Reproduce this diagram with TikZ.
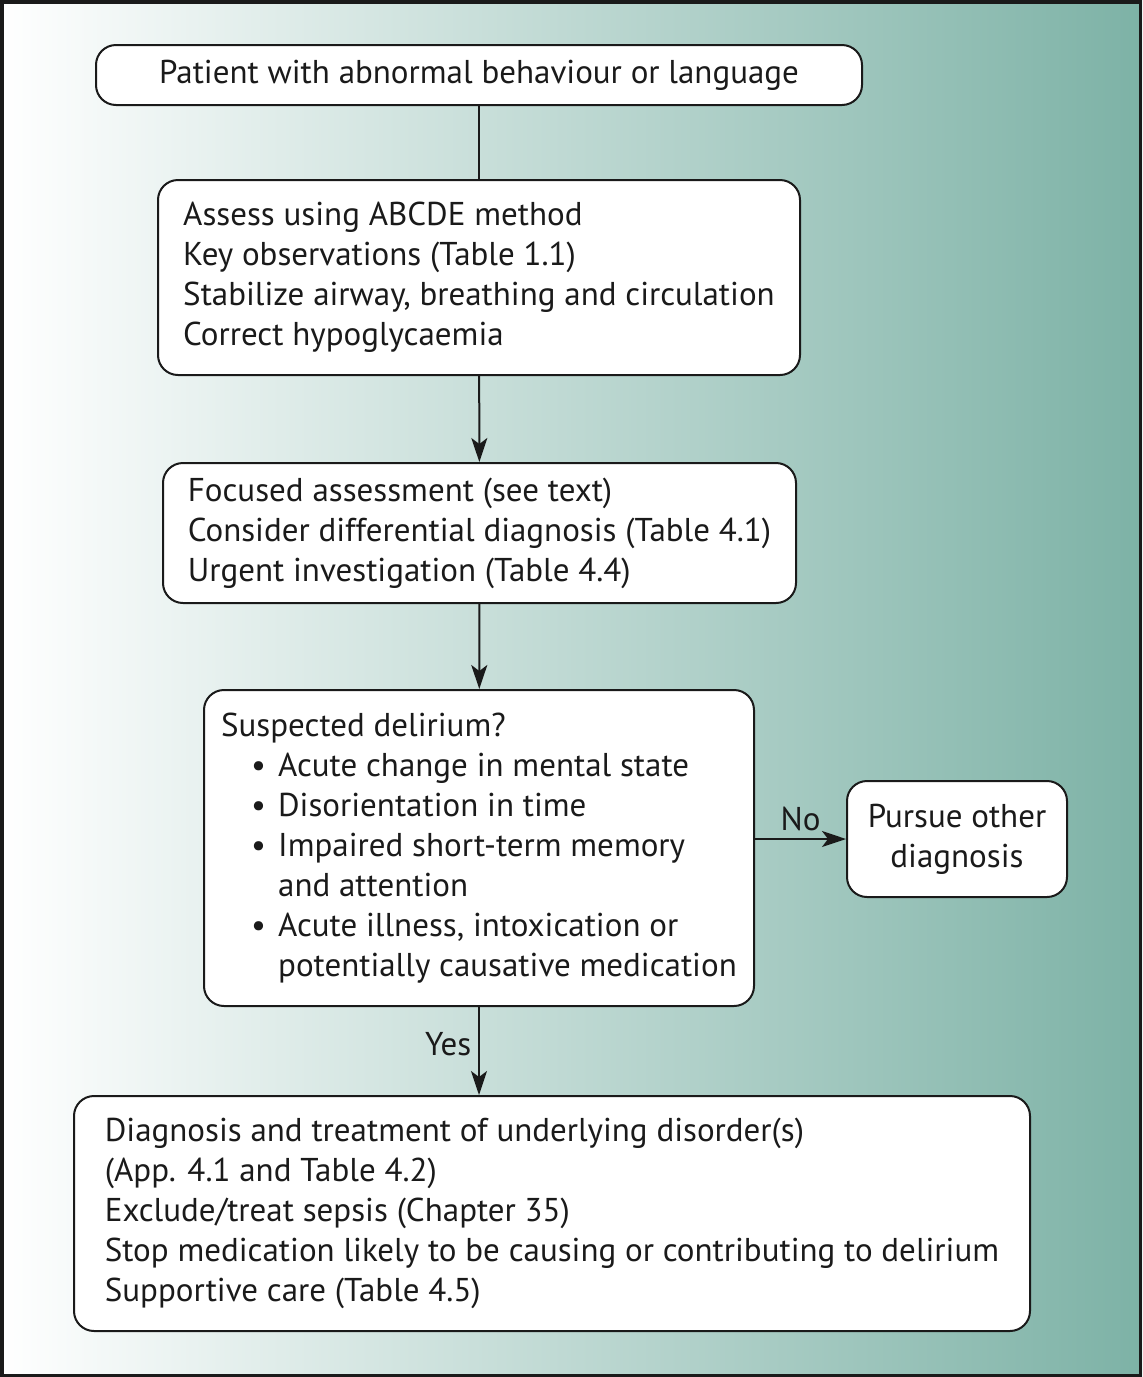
\documentclass[tikz,border=0pt]{standalone}
\usepackage{fontspec}
\setmainfont{PT Sans}
\usetikzlibrary{arrows.meta}
\definecolor{clrTeal}{HTML}{7DB2A6}
\definecolor{clrInk} {HTML}{1A1A1A}

\newcommand{\bitem}{\makebox[28.5pt][l]{\hspace*{15pt}\textbullet}}
\newcommand{\bcont}{\hspace*{28.5pt}}

\begin{document}
\begin{tikzpicture}[x=0.5pt, y=-0.5pt,
  box/.style={draw=clrInk, fill=white, rounded corners=10pt,
              line width=1pt, text=clrInk, align=left, inner sep=0pt,
              font=\fontsize{16.5}{20}\selectfont},
  arr/.style={-{Stealth[length=12pt, width=8pt, inset=3pt]},
              line width=1pt, draw=clrInk},
  lbl/.style={font=\fontsize{16.5}{20}\selectfont, text=clrInk},
]
\useasboundingbox (0,0) rectangle (1142,1377);
\shade[left color=white, right color=clrTeal] (0,0) rectangle (1142,1377);
\draw[line width=1.75pt, draw=clrInk] (1.75,1.75) rectangle (1140.25,1375.25);

\node[box, align=center, minimum width=383pt, minimum height=30pt]
  (start) at (479, 75) {Patient with abnormal behaviour or language};
\node[box, minimum width=321pt, minimum height=97.5pt]
  (abcde) at (479, 277.5)
  {Assess using ABCDE method\\
   Key observations (Table 1.1)\\
   Stabilize airway, breathing and circulation\\
   Correct hypoglycaemia};
\node[box, minimum width=316.5pt, minimum height=70pt]
  (focus) at (479.5, 533)
  {Focused assessment (see text)\\
   Consider differential diagnosis (Table 4.1)\\
   Urgent investigation (Table 4.4)};
\node[box, minimum width=275pt, minimum height=158pt]
  (delir) at (479, 848)
  {Suspected delirium?\\
   \bitem Acute change in mental state\\
   \bitem Disorientation in time\\
   \bitem Impaired short-term memory\\
   \bcont and attention\\
   \bitem Acute illness, intoxication or\\
   \bcont potentially causative medication};
\node[box, align=center, minimum width=110pt, minimum height=58pt]
  (other) at (957, 839) {Pursue other\\diagnosis};
\node[box, minimum width=478pt, minimum height=117.5pt]
  (treat) at (552, 1213.5)
  {Diagnosis and treatment of underlying disorder(s)\\
   (App. 4.1 and Table 4.2)\\
   Exclude/treat sepsis (Chapter 35)\\
   Stop medication likely to be causing or contributing to delirium\\
   Supportive care (Table 4.5)};

\draw[line width=1pt, draw=clrInk] (start) -- (abcde);
\draw[arr] (abcde) -- (focus);
\draw[arr] (focus) -- (delir);
\draw[arr] (delir.south) -- node[lbl, left, pos=0.42] {Yes}
  (delir.south |- treat.north);
\draw[arr] (other.west -| delir.east) -- node[lbl, above] {No} (other.west);
\end{tikzpicture}
\end{document}
